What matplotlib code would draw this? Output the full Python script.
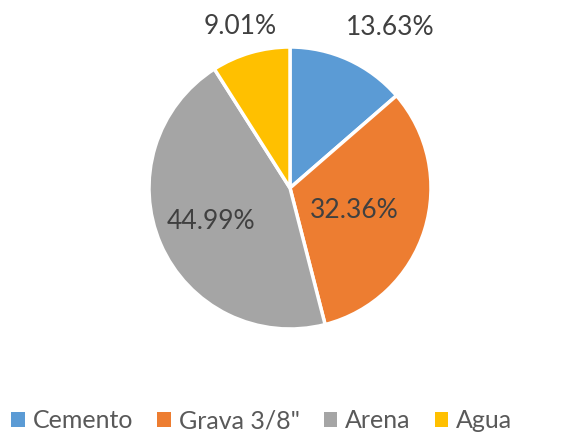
import matplotlib
matplotlib.use("Agg")
import matplotlib.pyplot as plt
import numpy as np

categories = ["Cemento", "Grava 3/8\"", "Arena", "Agua"]
values = [13.63, 32.36, 44.99, 9.01]
colors = ["#5B9BD5", "#ED7D31", "#A5A5A5", "#FFC000"]

# label positions (data coords, pie radius = 1)
label_pos = [(0.709, 1.135), (0.454, -0.163), (-0.560, -0.241), (-0.355, 1.142)]

plt.rcParams['font.family'] = ['Lato', 'DejaVu Sans']

fig = plt.figure(figsize=(5.81, 4.32), dpi=100)
ax = fig.add_axes([149/581, 103/432, 282/581, 282/432])
wedges, texts, autotexts = ax.pie(values, colors=colors, startangle=90, counterclock=False,
                                  autopct=lambda p: f"{p:.2f}%", radius=1,
                                  wedgeprops=dict(edgecolor="white", linewidth=2.5),
                                  textprops=dict(color="#404040", fontsize=19))
for t, (x, y) in zip(autotexts, label_pos):
    t.set_position((x, y))
    t.set_ha("center"); t.set_va("center")
ax.set_xlim(-1, 1); ax.set_ylim(-1, 1)
ax.set_aspect("equal")
ax.axis("off")

leg = fig.legend(wedges, categories, loc="center left", bbox_to_anchor=(11/581, 1 - 421/432),
                 ncol=4, frameon=False, fontsize=18, handlelength=0.55, handleheight=0.55,
                 handletextpad=0.32, columnspacing=0.95, labelcolor="#595959",
                 borderpad=0, borderaxespad=0)
for h in leg.legend_handles:
    h.set_edgecolor("none")
fig.savefig("out.png", dpi=100)
